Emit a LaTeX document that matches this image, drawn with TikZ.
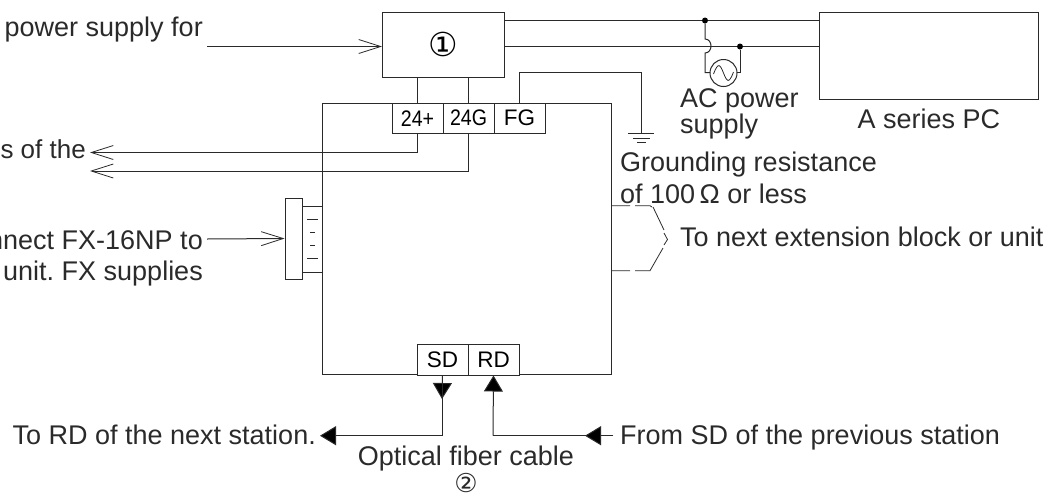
\documentclass[tikz,border=0pt]{standalone}
\usepackage{fontspec}
\setmainfont{Liberation Sans}
\newfontfamily\circfont{DejaVu Sans}
\usetikzlibrary{arrows.meta,calc}
\definecolor{ink}{HTML}{2A2A2A}
\tikzset{
  wire/.style={draw=ink,line width=1pt},
  openarrow/.style={wire,-{Straight Barb[length=22pt,width=14pt,line width=0.8pt]}},
  solidarrow/.style={wire,-{Triangle[length=16pt,width=19pt,fill=black]}},
  boxn/.style={draw=ink,line width=1pt,fill=white,inner sep=0pt,anchor=center},
  term/.style={boxn,minimum width=51pt,minimum height=30.5pt,font=\fontsize{22.5}{22.5}\selectfont,text=black},
  lbl/.style={inner sep=0pt,text=ink,font=\fontsize{27}{27}\selectfont\frenchspacing,anchor=base west},
  lblr/.style={lbl,anchor=base east},
  lblc/.style={lbl,anchor=base},
  dot/.style={circle,fill=black,inner sep=0pt,minimum size=6pt},
  dashw/.style={wire,line width=0.8pt}
}
\newcommand{\narrowed}{\addfontfeature{FakeStretch=0.87}}
\begin{document}
\begin{tikzpicture}[x=1pt,y=-1pt]
\useasboundingbox (0,0) rectangle (1050,496);
% boxes
\node[boxn,minimum width=288.5pt,minimum height=271.5pt] (main) at (466.75,238.75) {};
\node[boxn,minimum width=122pt,minimum height=65pt] (psu) at (443,44.5) {\circfont\fontsize{33}{33}\selectfont ①};
\node[boxn,minimum width=219pt,minimum height=87pt] (pc) at (928.5,55.5) {};
\node[term] (tp) at (417.5,118.25) {\narrowed 24+};
\node[term] (tg) at (468.5,118.25) {\narrowed 24G};
\node[term] (tf) at (519.5,118.25) {FG};
\node[term] (sd) at (442.5,359.75) {SD};
\node[term] (rd) at (493.5,359.75) {RD};
\node[boxn,minimum width=17pt,minimum height=81pt] (conn) at (293.5,238.5) {};
\node[inner sep=0pt,minimum size=0pt] (ac) at (723.5,73) {};
\draw[wire] (ac) circle[radius=13.5];
\draw[wire,line width=0.8pt] (713.5,74) .. controls (718,62) and (720,64) .. (723.5,73) .. controls (727,82) and (729,84) .. (733.5,72);
% labels
\node[lblr] (t1) at (203,36) {power supply for};
\node[lblr,font=\fontsize{26}{26}\selectfont\frenchspacing] (t2) at (86,158) {s of the};
\node[lblr] (t3) at (203,249) {nnect FX-16NP to};
\node[lblr] (t4) at (203,280) {unit. FX supplies};
\node[lbl] (t5) at (680,107) {AC power};
\node[lbl] (t6) at (680,133) {supply};
\node[lblc] (t7) at (929,128) {A series PC};
\node[lbl] (t8) at (620,171) {Grounding resistance};
\node[lbl] (t9) at (620,203) {of 100\,Ω or less};
\node[lbl] (t10) at (680,246) {To next extension block or unit};
\node[lblr] (t11) at (316,444) {To RD of the next station.};
\node[lbl] (t12) at (620,444) {From SD of the previous station};
\node[lblc] (t13) at (466,465) {Optical fiber cable};
\node[inner sep=0pt,text=ink] (t14) at (466,483.5) {\circfont\fontsize{26}{26}\selectfont ②};
% coordinates
\coordinate (in1) at (207,46.5);
\coordinate (psuin) at (382,46.5);
\coordinate (psuA) at (504,20.5);
\coordinate (psuB) at (504,46.5);
\coordinate (pcA) at (819,20.5);
\coordinate (pcB) at (819,46.5);
\coordinate (out1) at (90,152.5);
\coordinate (out2) at (90,171);
\coordinate (in2) at (207,239);
\coordinate (gnd) at (641,133.5);
\coordinate (sdTip) at (442,399);
\coordinate (sdEnd) at (320,435.7);
\coordinate (rdBend) at (493,435.7);
\coordinate (rdFrom) at (613,435.7);
\coordinate (jA) at (705,20.5);
\coordinate (jB) at (740,46.5);
% wires
\draw[openarrow] (in1) -- (psuin);
\draw[wire] (psuA) -- (pcA);
\draw[wire] (psuB) -- (pcB);
\draw[wire] (tp.north) -- (tp.north |- psu.south);
\draw[wire] (tg.north) -- (tg.north |- psu.south);
\draw[wire] (tf.north) -- (tf.north |- 0,72.5) -| (gnd);
\draw[wire] (628,133.5) -- (654,133.5);
\draw[wire] (633,138) -- (650,138);
\draw[wire] (637,142.5) -- (646,142.5);
\draw[openarrow] (tp.south) |- (out1);
\draw[openarrow] (tg.south) |- (out2);
\draw[openarrow] (in2) -- (conn.west);
% connector stub
\draw[wire] (conn.east |- 0,206) -- (main.west |- 0,206);
\draw[wire] (conn.east |- 0,272) -- (main.west |- 0,272);
\draw[wire,line width=0.8pt] (307,219) -- (318,219) (310,232) -- (315,232) (310,245) -- (315,245) (307,258) -- (318,258);
% AC supply
\node[dot] (da) at (jA) {};
\node[dot] (db) at (jB) {};
\draw[wire] (da) -- (705,39) .. controls (713,39) and (713,53) .. (705,53) -- (705,72.5) -- (710,72.5);
\draw[wire] (db) -- (740,72.5) -- (737,72.5);
% extension dashed
\draw[dashw] (main.east |- 0,205.7) -- (630,205.7) (635,205.7) -- (650,205.7) -- (652,207)
  (653,207) -- (664,230) (664,233) -- (667.5,239.5) -- (664,245)
  (663,248) -- (650,270.7) -- (635,270.7) (630,270.7) -- (main.east |- 0,270.7);
% fibre
\draw[solidarrow] (sd.south) -- (sdTip);
\draw[solidarrow] (sd.south) |- (sdEnd);
\draw[solidarrow] (rdBend) -- (rd.south);
\draw[wire] (rdFrom) -- (rdBend);
\draw[solidarrow] (rdFrom) -- (585,435.7);
\end{tikzpicture}
\end{document}
